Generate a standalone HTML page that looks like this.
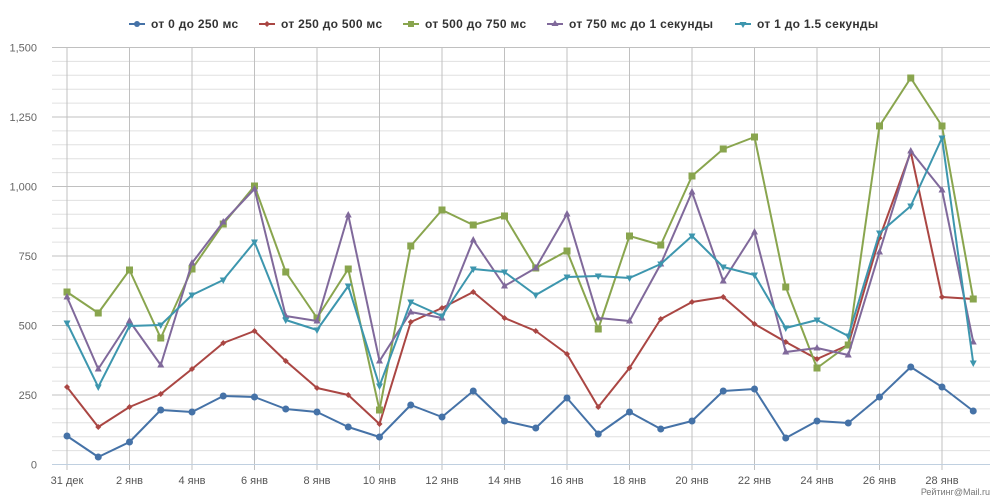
<!DOCTYPE html>
<html><head><meta charset="utf-8"><style>
html,body{margin:0;padding:0;background:#fff;width:1000px;height:500px;overflow:hidden}
svg text{font-family:"Liberation Sans","DejaVu Sans",sans-serif}
</style></head><body>
<svg id="s" width="1000" height="500" xmlns="http://www.w3.org/2000/svg">
<g id="grid"></g>
<g id="series"></g>
<g font-size="12" font-weight="bold" fill="#333" letter-spacing="0.3">
 <line x1="129" y1="24" x2="145" y2="24" stroke="#4572a7" stroke-width="2"/><circle cx="137" cy="24" r="3" fill="#4572a7"/>
 <text x="151" y="28">от 0 до 250 мс</text>
 <line x1="259" y1="24" x2="275" y2="24" stroke="#aa4643" stroke-width="2"/><path d="M267 21l3 3-3 3-3-3z" fill="#aa4643"/>
 <text x="281" y="28">от 250 до 500 мс</text>
 <line x1="403" y1="24" x2="419" y2="24" stroke="#89a54e" stroke-width="2"/><rect x="408" y="21" width="6" height="6" fill="#89a54e"/>
 <text x="425" y="28">от 500 до 750 мс</text>
 <line x1="547" y1="24" x2="563" y2="24" stroke="#80699b" stroke-width="2"/><path d="M555 20l3.5 6h-7z" fill="#80699b"/>
 <text x="569" y="28">от 750 мс до 1 секунды</text>
 <line x1="735" y1="24" x2="751" y2="24" stroke="#3d96ae" stroke-width="2"/><path d="M743 28l3.5-6h-7z" fill="#3d96ae"/>
 <text x="757" y="28">от 1 до 1.5 секунды</text>
</g>
<text x="990" y="495" font-size="9" fill="#777" text-anchor="end">Рейтинг@Mail.ru</text>
</svg>
<script>
var NS="http://www.w3.org/2000/svg";
function el(p,t,a,txt){var e=document.createElementNS(NS,t);for(var k in a)e.setAttribute(k,a[k]);if(txt)e.textContent=txt;p.appendChild(e);return e;}
var g=document.getElementById('grid');
var y0=464.5,step=13.9;
for(var i=0;i<=30;i++){var y=y0-i*step;
 if(i==0)continue;
 el(g,'line',{x1:52,x2:990,y1:y,y2:y,stroke:i%5==0?'#c0c0c0':'#e0e0e0','stroke-width':1});
 if(i%5==0)el(g,'text',{x:37,y:y+4,'font-size':11,fill:'#666','text-anchor':'end',
   'font-family':'Liberation Serif, serif'},(i*50).toLocaleString('en-US'));}
el(g,'text',{x:37,y:y0+4,'font-size':11,fill:'#666','text-anchor':'end','font-family':'Liberation Serif, serif'},'0');
var labs=['31 дек','2 янв','4 янв','6 янв','8 янв','10 янв','12 янв','14 янв','16 янв','18 янв','20 янв','22 янв','24 янв','26 янв','28 янв'];
for(var j=0;j<15;j++){var x=67+62.5*j;
 el(g,'line',{x1:x,x2:x,y1:47.5,y2:470,stroke:'#c0c0c0','stroke-width':1});
 el(g,'text',{x:x,y:484,'font-size':11,fill:'#555','text-anchor':'middle','font-family':'Liberation Serif, serif'},labs[j]);}
el(g,'line',{x1:52,x2:990,y1:y0,y2:y0,stroke:'#c0d0e0','stroke-width':1});
var D={
b:[436,457,442,410,412,396,397,409,412,427,437,405,417,391,421,428,398,434,412,429,421,391,389,438,421,423,397,367,387,411],
r:[387,427,407,394,369,343,331,361,388,395,424,322,308,292,318,331,354,407,368,319,302,297,324,342,359,345,238,152,297,299],
g:[292,313,270,338,269,224,186,272,318,269,410,246,210,225,216,268,251,329,236,245,176,149,137,287,368,345,126,78,126,299],
p:[297,369,321,365,263,222,189,316,321,215,361,312,318,240,286,268,214,318,321,264,192,281,232,352,348,355,252,151,190,342],
t:[323,387,326,325,295,280,242,320,330,286,386,302,316,269,272,295,277,276,278,264,236,267,275,328,320,336,233,206,138,363]};
var C={b:'#4572a7',r:'#aa4643',g:'#89a54e',p:'#80699b',t:'#3d96ae'};
var s=document.getElementById('series');
['b','r','g','p','t'].forEach(function(k){var pts=D[k].map(function(y,i){return [67+31.25*i,y];});
 el(s,'polyline',{points:pts.map(function(p){return p.join(',')}).join(' '),fill:'none',stroke:C[k],'stroke-width':2,'stroke-linejoin':'round'});
 pts.forEach(function(p){var x=p[0],y=p[1];
  if(k=='b')el(s,'circle',{cx:x,cy:y,r:3.5,fill:C[k]});
  else if(k=='r')el(s,'path',{d:'M'+x+' '+(y-3)+'l3 3-3 3-3-3z',fill:C[k]});
  else if(k=='g')el(s,'rect',{x:x-3.5,y:y-3.5,width:7,height:7,fill:C[k]});
  else if(k=='p')el(s,'path',{d:'M'+x+' '+(y-4)+'l3.5 6.5h-7z',fill:C[k]});
  else el(s,'path',{d:'M'+x+' '+(y+4)+'l3.5-6.5h-7z',fill:C[k]});
 });});
</script>
</body></html>
